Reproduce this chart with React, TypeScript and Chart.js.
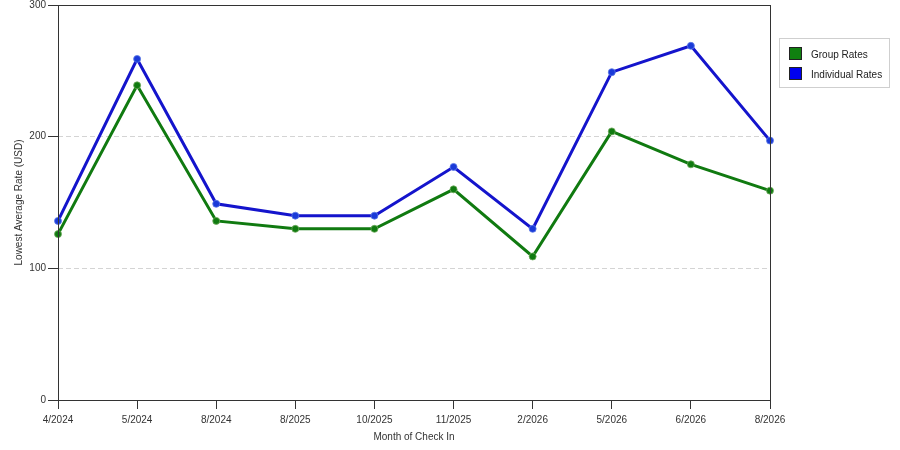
import { useEffect, useRef } from 'react';
import { Chart, registerables } from 'chart.js';
import type { Plugin } from 'chart.js';

Chart.register(...registerables);

const months = ['4/2024', '5/2024', '8/2024', '8/2025', '10/2025', '11/2025', '2/2026', '5/2026', '6/2026', '8/2026'];
const groupRates = [126, 239, 136, 130, 130, 160, 109, 204, 179, 159];
const individualRates = [136, 259, 149, 140, 140, 177, 130, 249, 269, 197];
const yTicks = [0, 100, 200, 300];

const FONT = '"Liberation Sans", Arial, sans-serif';
const GREEN = '#107a10';
const BLUE = '#1414cc';

// box round the plot area plus the boxed legend on the right
const framePlugin: Plugin<'line'> = {
  id: 'frame',
  afterDraw(chart) {
    const { ctx, chartArea } = chart;
    ctx.save();
    ctx.strokeStyle = '#333';
    ctx.lineWidth = 1;
    ctx.strokeRect(
      Math.round(chartArea.left) + 0.5,
      Math.round(chartArea.top) + 0.5,
      Math.round(chartArea.right - chartArea.left),
      Math.round(chartArea.bottom - chartArea.top)
    );

    ctx.strokeStyle = '#cfcfcf';
    ctx.strokeRect(779.5, 38.5, 110, 49);
    ctx.font = `10px ${FONT}`;
    ctx.textBaseline = 'middle';
    ctx.textAlign = 'left';
    chart.data.datasets.forEach((ds, i) => {
      const y = 47 + i * 20;
      ctx.fillStyle = i === 0 ? '#108010' : '#0000f0';
      ctx.fillRect(789, y, 13, 13);
      ctx.strokeStyle = '#222';
      ctx.strokeRect(789.5, y + 0.5, 12, 12);
      ctx.fillStyle = '#222';
      ctx.fillText(String(ds.label), 811, y + 8);
    });
    ctx.restore();
  },
};

export default function App() {
  const canvasRef = useRef<HTMLCanvasElement>(null);
  const chartRef = useRef<Chart | null>(null);

  useEffect(() => {
    if (!canvasRef.current) return;
    chartRef.current?.destroy();

    chartRef.current = new Chart(canvasRef.current, {
      type: 'line',
      data: {
        labels: months,
        datasets: [
          {
            label: 'Group Rates',
            data: groupRates,
            borderColor: GREEN,
            backgroundColor: GREEN,
            borderWidth: 3,
            pointRadius: 3.5,
            pointBorderWidth: 1,
            pointBorderColor: 'rgba(110,170,90,0.8)',
            pointBackgroundColor: GREEN,
            tension: 0,
          },
          {
            label: 'Individual Rates',
            data: individualRates,
            borderColor: BLUE,
            backgroundColor: BLUE,
            borderWidth: 3,
            pointRadius: 3.5,
            pointBorderWidth: 1,
            pointBorderColor: 'rgba(90,120,230,0.8)',
            pointBackgroundColor: '#1a3ad8',
            tension: 0,
          },
        ],
      },
      options: {
        responsive: false,
        animation: false,
        layout: { padding: { top: 4, right: 130, left: 0, bottom: 0 } },
        plugins: {
          legend: { display: false },
          tooltip: { enabled: false },
        },
        scales: {
          x: {
            afterFit: (s) => {
              s.height = 50;
              s.paddingLeft = 0;
              s.paddingRight = 0;
            },
            grid: {
              drawOnChartArea: false,
              tickLength: 9,
              tickColor: '#333',
            },
            border: { display: false },
            ticks: {
              font: { size: 10, family: FONT },
              color: '#333',
              padding: 5,
              maxRotation: 0,
              autoSkip: false,
            },
            title: {
              display: true,
              text: 'Month of Check In',
              font: { size: 10, family: FONT },
              color: '#333',
              padding: { top: 0, bottom: 7 },
            },
          },
          y: {
            min: 0,
            max: 300,
            afterFit: (s) => {
              s.width = 58;
              s.paddingTop = 0;
              s.paddingBottom = 0;
            },
            afterBuildTicks: (s) => {
              s.ticks = yTicks.map((v) => ({ value: v }));
            },
            grid: {
              color: (c) => (c.tick && (c.tick.value === 0 || c.tick.value === 300) ? 'rgba(0,0,0,0)' : '#d4d4d4'),
              tickColor: '#333',
              tickLength: 10,
              tickBorderDash: [],
            },
            border: { display: false, dash: [5, 3] },
            ticks: {
              font: { size: 10, family: FONT },
              color: '#333',
              padding: 2,
            },
            title: {
              display: true,
              text: 'Lowest Average Rate (USD)',
              font: { size: 10, family: FONT },
              color: '#333',
              padding: { top: 13, bottom: 0 },
            },
          },
        },
      },
      plugins: [framePlugin],
    });

    return () => {
      chartRef.current?.destroy();
      chartRef.current = null;
    };
  }, []);

  return (
    <div style={{ position: 'absolute', left: 0, top: 0, width: 900, height: 450, background: '#fff' }}>
      <canvas ref={canvasRef} width={900} height={450} />
    </div>
  );
}
